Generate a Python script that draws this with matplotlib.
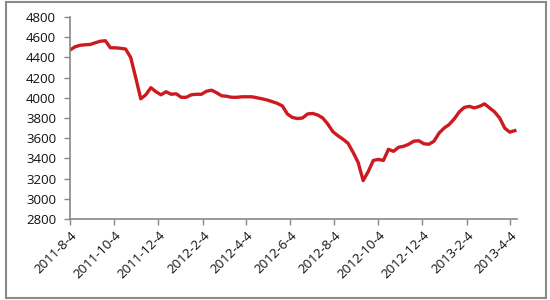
import matplotlib
matplotlib.use("Agg")
import matplotlib.pyplot as plt
from matplotlib.patches import Rectangle
import pandas as pd

start_date = "2011-08-04"
values = [4473, 4505, 4520, 4525, 4528, 4545, 4560, 4565, 4495, 4495,
          4490, 4483, 4400, 4200, 3990, 4030, 4100, 4060, 4030, 4060,
          4035, 4040, 4005, 4005, 4030, 4035, 4035, 4065, 4075, 4050,
          4020, 4015, 4005, 4005, 4010, 4010, 4010, 4000, 3990, 3978,
          3962, 3945, 3920, 3840, 3805, 3795, 3800, 3840, 3845, 3830,
          3800, 3740, 3665, 3625, 3590, 3550, 3460, 3360, 3180, 3270,
          3380, 3390, 3380, 3490, 3470, 3510, 3520, 3540, 3570, 3575,
          3545, 3540, 3570, 3650, 3700, 3735, 3790, 3860, 3905, 3915,
          3900, 3915, 3940, 3900, 3860, 3800, 3700, 3660, 3675]
tick_dates = ["2011-08-04", "2011-10-04", "2011-12-04", "2012-02-04", "2012-04-04",
              "2012-06-04", "2012-08-04", "2012-10-04", "2012-12-04", "2013-02-04",
              "2013-04-04"]
tick_labels = ["2011-8-4", "2011-10-4", "2011-12-4", "2012-2-4", "2012-4-4",
               "2012-6-4", "2012-8-4", "2012-10-4", "2012-12-4", "2013-2-4",
               "2013-4-4"]
y_ticks = [2800, 3000, 3200, 3400, 3600, 3800, 4000, 4200, 4400, 4600, 4800]

dates = pd.date_range(start_date, periods=len(values), freq="7D")

plt.rcParams['font.family'] = ['Open Sans', 'DejaVu Sans']
fig = plt.figure(figsize=(5.5, 3.0), dpi=100)
ax = fig.add_axes([70/550, 1-219/300, (517-70)/550, (219-17)/300])

ax.plot(dates, values, color="#CC1A1F", lw=2.4, solid_joinstyle="round")

x0 = pd.Timestamp(start_date)
ax.set_xlim(x0, x0 + pd.Timedelta(days=619))
ax.set_ylim(2800, 4800)
ax.set_yticks(y_ticks)
ax.set_yticklabels([str(v) for v in y_ticks], fontsize=9.5)
ax.set_xticks(pd.to_datetime(tick_dates))
ax.set_xticklabels(tick_labels, rotation=45, ha="right", va="top",
                   rotation_mode="anchor", fontsize=9.5)

for s in ["top", "right"]:
    ax.spines[s].set_visible(False)
for s in ["left", "bottom"]:
    ax.spines[s].set_color("#888888")
    ax.spines[s].set_linewidth(1.2)
ax.tick_params(axis="both", colors="#888888", length=4, width=1, labelcolor="#111111")
ax.tick_params(axis="y", pad=6)
ax.tick_params(axis="x", pad=3)

fig.patches.append(Rectangle((6/550, 2/300), 540/550, 296/300, transform=fig.transFigure,
                             fill=False, edgecolor="#8a8a8a", lw=1.5))

fig.savefig("out.png", dpi=100)
